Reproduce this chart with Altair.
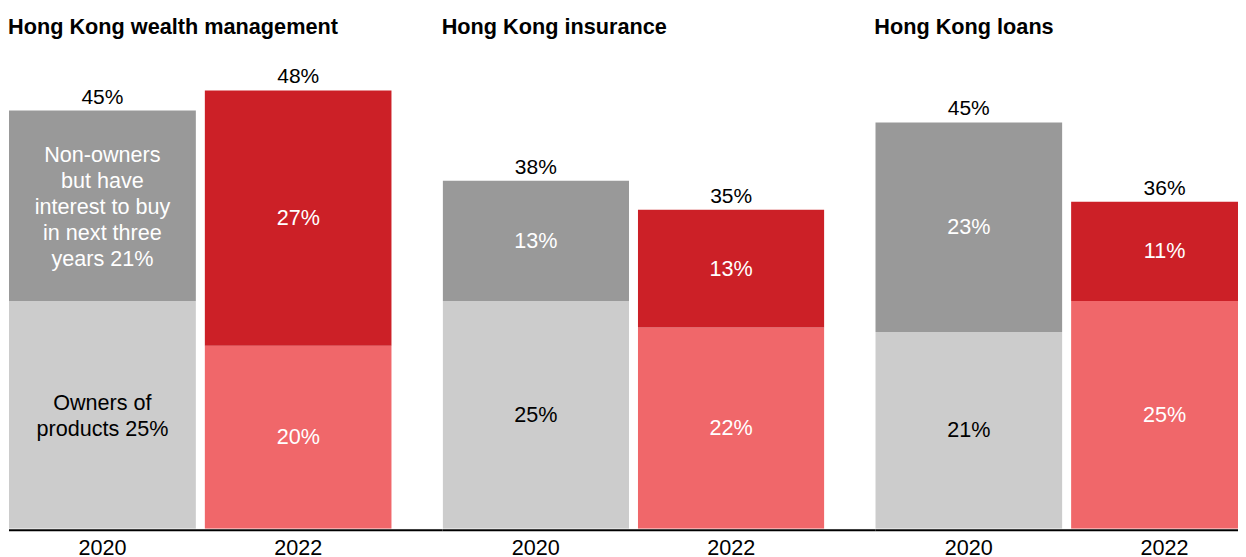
import altair as alt
import pandas as pd

# ---- data ----
panels = ["Hong Kong wealth management", "Hong Kong insurance", "Hong Kong loans"]
years = ["2020", "2022"]
# drawn segment heights (percentage points), order: panel1 2020, panel1 2022, panel2 2020, ...
owners = [25.0, 20.1, 25.0, 22.1, 21.6, 25.0]
interest = [20.9, 28.0, 13.2, 12.9, 23.0, 10.9]
owner_labels = ["Owners of\nproducts 25%", "20%", "25%", "22%", "21%", "25%"]
interest_labels = ["Non-owners\nbut have\ninterest to buy\nin next three\nyears 21%",
                   "27%", "13%", "13%", "23%", "11%"]
total_labels = ["45%", "48%", "38%", "35%", "45%", "36%"]

owner_fill = {"2020": "#CCCCCC", "2022": "#F0676A"}
interest_fill = {"2020": "#999999", "2022": "#CC2027"}
owner_text = {"2020": "#000000", "2022": "#FFFFFF"}
interest_text = {"2020": "#FFFFFF", "2022": "#FFFFFF"}

rows = []
for pi, p in enumerate(panels):
    for yi, yr in enumerate(years):
        i = pi * 2 + yi
        rows.append(dict(panel=p, year=yr, seg="owners", order=0, value=owners[i],
                         label=owner_labels[i], fill=owner_fill[yr], tcolor=owner_text[yr],
                         tlabel=total_labels[i], nlines=owner_labels[i].count("\n") + 1))
        rows.append(dict(panel=p, year=yr, seg="interest", order=1, value=interest[i],
                         label=interest_labels[i], fill=interest_fill[yr], tcolor=interest_text[yr],
                         tlabel=total_labels[i], nlines=interest_labels[i].count("\n") + 1))
df = pd.DataFrame(rows)

FONT = "Liberation Sans"
H = 456
YMAX = 50
GAP = 51
LINE_H = 26
SEG_FS = 21.6
TOT_FS = 21
widths = [383, 382, 363]


def make_panel(idx):
    p = panels[idx]
    w = widths[idx]
    d = df[df.panel == p]
    if idx == 2:
        xscale = alt.Scale(paddingInner=9 / 196, paddingOuter=0, range=[0, 383])
    else:
        xscale = alt.Scale(paddingInner=9 / 196, paddingOuter=0)
    xaxis = alt.Axis(labelAngle=0, domain=False, ticks=False, grid=False,
                     labelFontSize=21.6, labelFont=FONT, labelColor="#000000",
                     labelPadding=9)
    yscale = alt.Scale(domain=[0, YMAX])
    base = alt.Chart(d)
    x = alt.X("year:N", scale=xscale, axis=xaxis, title=None, sort=years)

    bars = base.mark_bar(clip=True).encode(
        x=x,
        y=alt.Y("value:Q", stack="zero", scale=yscale, axis=None),
        color=alt.Color("fill:N", scale=None),
        order=alt.Order("order:Q"),
    )
    stacked = base.transform_stack(
        stack="value", groupby=["year"], sort=[alt.SortField("order")], as_=["v0", "v1"]
    ).transform_calculate(mid="(datum.v0 + datum.v1) / 2")
    seg_layers = []
    for n in sorted(d.nlines.unique()):
        seg_layers.append(
            stacked.transform_filter(alt.datum.nlines == int(n)).mark_text(
                baseline="middle", align="center", lineBreak="\n", fontSize=SEG_FS,
                lineHeight=LINE_H, font=FONT, dy=-(int(n) - 1) * LINE_H / 2 + (2 if n > 1 else 1)
            ).encode(
                x=x,
                y=alt.Y("mid:Q", scale=yscale, axis=None),
                text="label:N",
                color=alt.Color("tcolor:N", scale=None),
            )
        )
    tot_text = base.transform_aggregate(
        total="sum(value)", groupby=["year", "tlabel"]
    ).mark_text(baseline="alphabetic", align="center", dy=-7, fontSize=TOT_FS, font=FONT,
                color="#000000").encode(
        x=x,
        y=alt.Y("total:Q", scale=yscale, axis=None),
        text="tlabel:N",
    )
    ext = w + GAP if idx < 2 else w
    rule = alt.Chart(pd.DataFrame({"k": [0]})).mark_rule(color="#000000", strokeWidth=2).encode(
        x=alt.value(0), x2=alt.value(ext), y=alt.value(H + 1.5)
    )
    title = alt.Chart(pd.DataFrame({"t": [p]})).mark_text(
        align="left", baseline="alphabetic", fontSize=21.7, fontWeight="bold", font=FONT,
        color="#000000"
    ).encode(x=alt.value(-1), y=alt.value(-39), text="t:N")
    return alt.layer(bars, *seg_layers, tot_text, rule, title).properties(width=w, height=H)


chart = alt.hconcat(*[make_panel(i) for i in range(3)], spacing=GAP, bounds="flush").properties(
    padding={"left": 0, "top": 9, "right": -20, "bottom": 0},
    background="#FFFFFF",
).configure_view(stroke=None)

chart.save("out.html", embed_options={"renderer": "svg", "actions": False})
